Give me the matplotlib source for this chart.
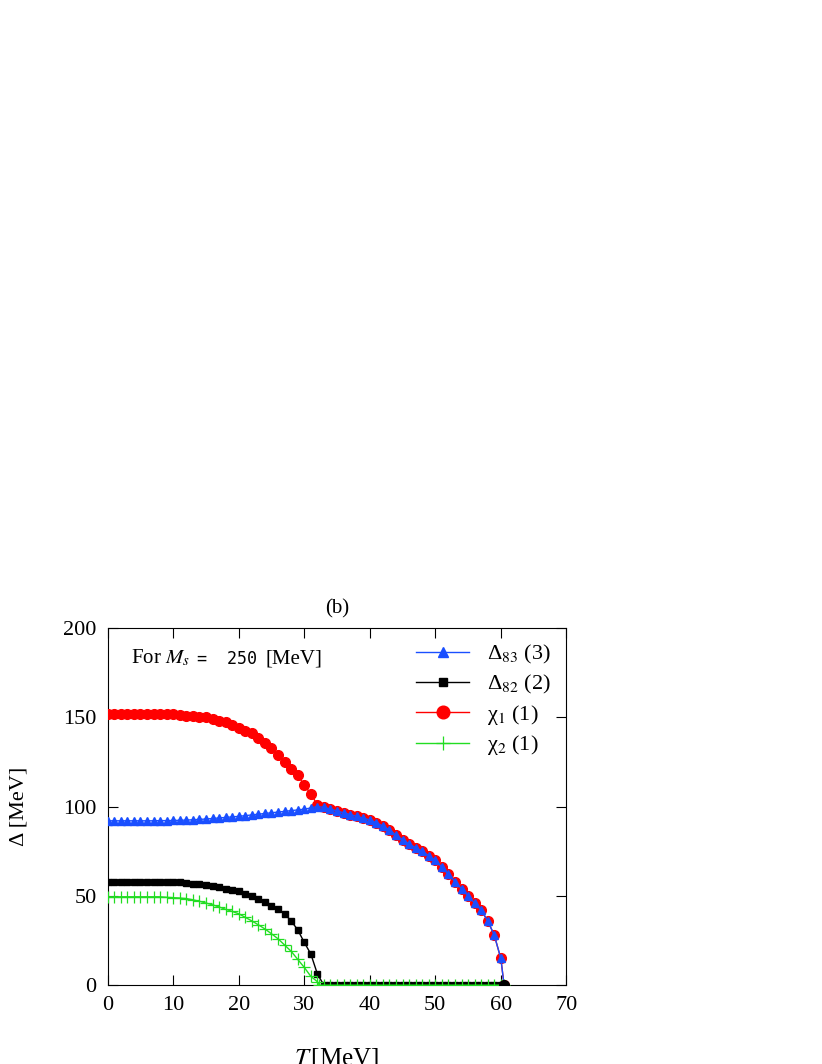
import matplotlib
matplotlib.use("Agg")
import matplotlib.pyplot as plt
import numpy as np

plt.rcParams["font.family"] = "Liberation Serif"
plt.rcParams["mathtext.fontset"] = "stix"

# temperature grid (MeV)
t_lo = list(range(0, 33))
t_hi = list(range(33, 61)) + [60.5]

chi1_lo = [152, 152, 152, 152, 152, 152, 152, 152, 152, 151.8, 151.6,
           151, 150.8, 150.5, 150.2, 150, 149, 148, 147, 145.5, 144,
           142.5, 141, 138.5, 135.5, 132.5, 129, 125, 121, 117.5, 112, 107, 101]
delta83_lo = [92, 92, 92, 92, 92, 92, 92, 92, 92.1, 92.1, 92.2,
              92.3, 92.4, 92.6, 92.8, 93, 93.3, 93.6, 93.9, 94.2, 94.5,
              94.9, 95.3, 95.7, 96.1, 96.5, 96.9, 97.3, 97.7, 98.1, 98.5, 99.2, 100]
common_hi = [99.5, 98.5, 97.5, 96.5, 95.5, 94.5, 93.5, 92.5, 91, 89, 87, 84,
             81.5, 79, 77, 75, 72.5, 70, 66, 62, 58, 54, 50, 46, 42, 36, 28, 15, 0]
delta82_lo = [58, 58, 58, 58, 58, 58, 58, 58, 58, 57.9, 57.8,
              57.5, 57.2, 56.9, 56.5, 56, 55.5, 54.8, 54, 53.3, 52.5,
              51.3, 50, 48.3, 46.5, 44.5, 42.5, 40, 36, 31, 24, 17.5, 6.4]
chi2_t = [float(x) for x in range(0, 33)] + [32.3]
chi2_lo = [49.5, 49.5, 49.5, 49.5, 49.5, 49.5, 49.5, 49.5, 49.5, 49.2, 49,
           48.8, 48.5, 47.8, 47, 46, 45, 43.8, 42.5, 41.3, 40,
           38, 36, 33.8, 31.5, 28.8, 26, 22.5, 19, 14.5, 10, 5, 2, 0]

t_all = t_lo + t_hi
chi1 = chi1_lo + common_hi
delta83 = delta83_lo + common_hi
delta82 = delta82_lo + [0] * len(t_hi)
chi2_t_all = chi2_t + t_hi
chi2 = chi2_lo + [0] * len(t_hi)

fig = plt.figure(figsize=(8.22, 10.64), dpi=100)
ax = fig.add_axes([0.131, 0.074, 0.558, 0.336])

ax.plot(t_all, chi1, color="red", marker="o", ms=7, lw=1, label="χ$_1$ (1)", zorder=3)
ax.plot(t_all, delta83, color="#1a4fff", marker="^", ms=5.5, lw=1, label="Δ$_{83}$ (3)", zorder=4)
ax.plot(t_all, delta82, color="black", marker="s", ms=4, lw=1, label="Δ$_{82}$ (2)", zorder=5)
ax.plot(chi2_t_all, chi2, color="#22dd22", marker="+", ms=8, mew=0.9, lw=1, label="χ$_2$ (1)", zorder=6)
ax.plot([t_hi[-1]], [0], "o", color="black", ms=7, zorder=7)

ax.set_xlim(0, 70)
ax.set_ylim(0, 200)
ax.set_xticks(range(0, 71, 10))
ax.set_yticks(range(0, 201, 50))
ax.tick_params(direction="in", length=7, top=True, right=True, labelsize=16, pad=8)
ax.set_title("(b)", fontsize=15, pad=10)
ax.set_xlabel(r"$T\,$[MeV]", fontsize=18, labelpad=22)
ax.set_ylabel("Δ [MeV]", fontsize=16, labelpad=25)

ax.text(0.05, 0.9, r"For $M_s$", transform=ax.transAxes, fontsize=15)
ax.text(0.195, 0.9, "=  250", transform=ax.transAxes, fontsize=12, family="DejaVu Sans Mono")
ax.text(0.345, 0.9, "[MeV]", transform=ax.transAxes, fontsize=15)

h, l = ax.get_legend_handles_labels()
order = [1, 2, 0, 3]
ax.legend([h[i] for i in order], [l[i] for i in order], loc="upper right",
          frameon=False, fontsize=16, handlelength=2.4, labelspacing=0.3,
          borderaxespad=0.3, markerscale=1.3)

fig.savefig("out.png", dpi=100)
